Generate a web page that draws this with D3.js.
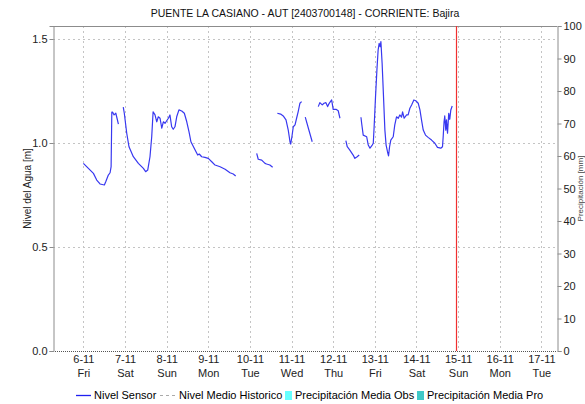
<!DOCTYPE html>
<html>
<head>
<meta charset="utf-8">
<script src="https://cdn.jsdelivr.net/npm/d3@7"></script>
<style>
  body { margin: 0; background: #fff; }
  svg { font-family: "Liberation Sans", Arial, sans-serif; font-size: 11px; }
</style>
</head>
<body>
<div id="chart"></div>
<script>
// title and labels
var title = "PUENTE LA CASIANO - AUT [2403700148] - CORRIENTE: Bajira";
var yLabel = "Nivel del Agua [m]";
var y2Label = "Precipitación [mm]";
var legendNames = ["Nivel Sensor", "Nivel Medio Historico", "Precipitación Media Obs", "Precipitación Media Pro"];

// hours after 6-11 00:00, null = gap in the record
var sensorHours = [
  0, 2.9, 5.8, 7.7, 9.6, 12.1, 12.9, 14.4, 15.4, 16.0, 16.4, 16.9, 17.7, 18.7, 19.4, 20.2, null,
  23.0, 23.6, 25.0, 26.3, 28.8, 31.7, 34.6, 35.9, 37.1, 38.4, 39.4, 40.2, 41.3, 42.3, 43.2, 44.2, 45.2, 46.1,
  47.1, 49.0, 49.9, 50.9, 51.8, 52.8, 53.8, 55.1, 56.7, 58.2, 59.6, 60.9, 62.0, 63.9, 65.9, 66.8, 68.2,
  70.1, 72.0, 74.0, 75.9, 78.8, 81.7, 84.5, 86.4, 87.8, null,
  99.9, 100.8, 102.8, 104.7, 105.6, 107.5, 109.1, null,
  111.8, 113.7, 115.2, 116.8, 118.1, 119.1, 119.5, 120.2, 121.0, 122.0, 122.9, 123.8, 124.8, 125.8, null,
  127.9, 129.9, 131.9, null,
  135.4, 136.3, 137.7, 138.7, 139.8, 140.8, 141.7, 143.1, 144.0, 145.6, 146.9, 147.9, null,
  151.3, 152.1, 153.6, 155.5, 156.5, 157.8, 159.0, null,
  160.0, 160.4, 161.3, 163.3, 164.2, 165.2, 166.5, 167.1, 167.6, 168.4, 169.2, 169.9, 170.5, 171.1, 171.5,
  172.2, 173.0, 173.8, 174.5, 175.3, 175.9, 176.5, 177.2, 178.6, 179.5, 180.5, 181.5, 182.4, 183.4, 184.0,
  184.9, 186.3, 187.2, 188.2, 189.2, 190.5, 191.6, 193.0, 194.0, 194.9, 195.9, 197.2, 198.7, 200.7, 202.6,
  204.1, 206.0, 207.0, 207.4, 207.9, 208.3, 208.9, 209.3, 209.9, 210.6, 211.2, 211.8, 212.6
];
var sensorLevel = [
  0.902, 0.878, 0.854, 0.822, 0.803, 0.798, 0.814, 0.846, 0.857, 0.886, 1.148, 1.148, 1.135, 1.143, 1.119, 1.091, null,
  1.172, 1.143, 1.047, 0.982, 0.934, 0.902, 0.878, 0.862, 0.870, 0.934, 1.030, 1.150, 1.135, 1.102, 1.126, 1.119, 1.071, 1.102,
  1.095, 1.119, 1.135, 1.078, 1.066, 1.078, 1.126, 1.159, 1.154, 1.143, 1.102, 1.054, 1.006, 0.975, 0.942, 0.947, 0.934,
  0.931, 0.926, 0.910, 0.894, 0.886, 0.874, 0.857, 0.851, 0.841, null,
  0.950, 0.922, 0.918, 0.902, 0.899, 0.894, 0.883, null,
  1.143, 1.139, 1.130, 1.111, 1.062, 1.006, 0.995, 1.030, 1.078, 1.087, 1.119, 1.150, 1.191, 1.199, null,
  1.124, 1.065, 1.006, null,
  1.175, 1.194, 1.183, 1.191, 1.194, 1.175, 1.191, 1.207, 1.162, 1.162, 1.155, 1.119, null,
  1.011, 0.982, 0.966, 0.942, 0.926, 0.934, 0.942, null,
  1.124, 1.095, 1.038, 1.030, 0.990, 0.975, 0.990, 0.999, 1.078, 1.223, 1.351, 1.447, 1.479, 1.463, 1.487,
  1.383, 1.223, 1.062, 0.990, 0.958, 0.938, 0.982, 1.014, 1.030, 1.087, 1.126, 1.119, 1.135, 1.124, 1.150,
  1.119, 1.135, 1.135, 1.167, 1.183, 1.207, 1.203, 1.191, 1.159, 1.111, 1.062, 1.038, 1.027, 1.014, 0.999,
  0.979, 0.975, 0.982, 1.030, 1.102, 1.130, 1.062, 1.111, 1.047, 1.143, 1.114, 1.159, 1.178
];

var levelTicks = [0, 0.5, 1.0, 1.5];
var rainTicks = [0, 10, 20, 30, 40, 50, 60, 70, 80, 90, 100];
var startDay = new Date(2015, 10, 6);
var nowTime = new Date(2015, 10, 14, 22, 40);

var W = 585, H = 404;
var margin = {left: 53, right: 28, top: 26, bottom: 53};
var x0 = margin.left, x1 = W - margin.right, y0 = H - margin.bottom, y1 = margin.top;

var svg = d3.select("#chart").append("svg")
    .attr("width", W)
    .attr("height", H);

var x = d3.scaleTime()
    .domain([new Date(2015, 10, 5, 6, 30), new Date(2015, 10, 17, 9, 0)])
    .range([x0, x1]);
var y = d3.scaleLinear().domain([0, 1.5625]).range([y0, y1]);
var y2 = d3.scaleLinear().domain([0, 100]).range([y0, y1]);

var days = d3.timeDay.range(startDay, new Date(2015, 10, 18));

// grid
svg.append("g").selectAll("line.vg")
    .data(days).enter().append("line")
    .attr("x1", function(d) { return Math.round(x(d)) + 0.5; })
    .attr("x2", function(d) { return Math.round(x(d)) + 0.5; })
    .attr("y1", y1).attr("y2", y0)
    .attr("stroke", "#c4c4c4")
    .attr("stroke-dasharray", "2,3");

svg.append("g").selectAll("line.hg")
    .data(levelTicks.slice(1)).enter().append("line")
    .attr("x1", x0).attr("x2", x1)
    .attr("y1", function(d) { return Math.round(y(d)) + 0.5; })
    .attr("y2", function(d) { return Math.round(y(d)) + 0.5; })
    .attr("stroke", "#c4c4c4")
    .attr("stroke-dasharray", "2,3");

// frame
svg.append("line").attr("x1", x0).attr("x2", x1).attr("y1", y1 + 0.5).attr("y2", y1 + 0.5).attr("stroke", "#8c8c8c");
svg.append("line").attr("x1", x0).attr("x2", x1).attr("y1", y0 + 0.5).attr("y2", y0 + 0.5)
    .attr("stroke", "#555").attr("stroke-dasharray", "1,1");

// left axis
var gy = svg.append("g")
    .attr("transform", "translate(" + (x0 + 0.5) + ",0)")
    .call(d3.axisLeft(y).tickValues(levelTicks).tickFormat(d3.format(".1f")).tickSize(4).tickPadding(2));
gy.select(".domain").attr("stroke", "#8c8c8c");
gy.selectAll(".tick line").attr("stroke", "#8c8c8c");
gy.selectAll("text").attr("font-size", "11px").attr("font-family", null).attr("fill", "#222");

// right axis
var gy2 = svg.append("g")
    .attr("transform", "translate(" + (x1 + 0.5) + ",0)")
    .call(d3.axisRight(y2).tickValues(rainTicks).tickSize(4).tickPadding(2));
gy2.select(".domain").attr("stroke", "#8c8c8c");
gy2.selectAll(".tick line").attr("stroke", "#8c8c8c");
gy2.selectAll("text").attr("font-size", "11px").attr("font-family", null).attr("fill", "#222");

// bottom axis, two line labels
var gx = svg.append("g")
    .attr("transform", "translate(0," + y0 + ")")
    .call(d3.axisBottom(x).tickValues(days).tickSize(0).tickPadding(0).tickFormat(""));
gx.select(".domain").remove();
gx.selectAll(".tick text")
    .attr("font-size", "11px").attr("font-family", null).attr("fill", "#222")
    .attr("dy", null).attr("y", 0)
    .each(function(d) {
      var t = d3.select(this);
      t.append("tspan").attr("x", 0).attr("y", 12).text(d3.timeFormat("%-d-%m")(d));
      t.append("tspan").attr("x", 0).attr("y", 26).text(d3.timeFormat("%a")(d));
    });

// axis titles
svg.append("text")
    .attr("transform", "translate(31," + ((y0 + y1) / 2) + ") rotate(-90)")
    .attr("text-anchor", "middle")
    .attr("fill", "#222")
    .attr("font-size", "10px")
    .text(yLabel);
svg.append("text")
    .attr("transform", "translate(583," + ((y0 + y1) / 2) + ") rotate(-90)")
    .attr("text-anchor", "middle")
    .attr("fill", "#444")
    .attr("font-size", "8px")
    .text(y2Label);

// title
svg.append("text")
    .attr("x", (x0 + x1) / 2)
    .attr("y", 17)
    .attr("text-anchor", "middle")
    .attr("fill", "#111")
    .attr("font-size", "10.5px")
    .text(title);

// sensor line
var pts = sensorHours.map(function(h, i) {
  return {t: h == null ? null : d3.timeMinute.offset(startDay, Math.round(h * 60)), v: sensorLevel[i]};
});
var line = d3.line()
    .defined(function(d) { return d.v != null; })
    .x(function(d) { return x(d.t); })
    .y(function(d) { return y(d.v); });
svg.append("path")
    .datum(pts)
    .attr("d", line)
    .attr("fill", "none")
    .attr("stroke", "#3838f0")
    .attr("stroke-width", 1.2)
    .attr("stroke-linejoin", "round");

// current time marker
svg.append("line")
    .attr("x1", Math.round(x(nowTime)) + 0.5).attr("x2", Math.round(x(nowTime)) + 0.5)
    .attr("y1", y1).attr("y2", y0)
    .attr("stroke", "#f03030")
    .attr("stroke-width", 1.2);

// legend
var lg = svg.append("g").attr("transform", "translate(0,395)");
lg.append("line").attr("x1", 76).attr("x2", 91).attr("y1", 0.5).attr("y2", 0.5).attr("stroke", "#2020f0").attr("stroke-width", 1.3);
lg.append("text").attr("x", 94).attr("y", 4).text(legendNames[0]);
lg.append("line").attr("x1", 160).attr("x2", 175).attr("y1", 0.5).attr("y2", 0.5).attr("stroke", "#aaa").attr("stroke-dasharray", "3,3");
lg.append("text").attr("x", 179).attr("y", 4).text(legendNames[1]);
lg.append("rect").attr("x", 285).attr("y", -4).attr("width", 7).attr("height", 9).attr("fill", "#66ffff");
lg.append("text").attr("x", 295).attr("y", 4).text(legendNames[2]);
lg.append("rect").attr("x", 417).attr("y", -4).attr("width", 7).attr("height", 9).attr("fill", "#40c8c8");
lg.append("text").attr("x", 427).attr("y", 4).text(legendNames[3]);
</script>
</body>
</html>
